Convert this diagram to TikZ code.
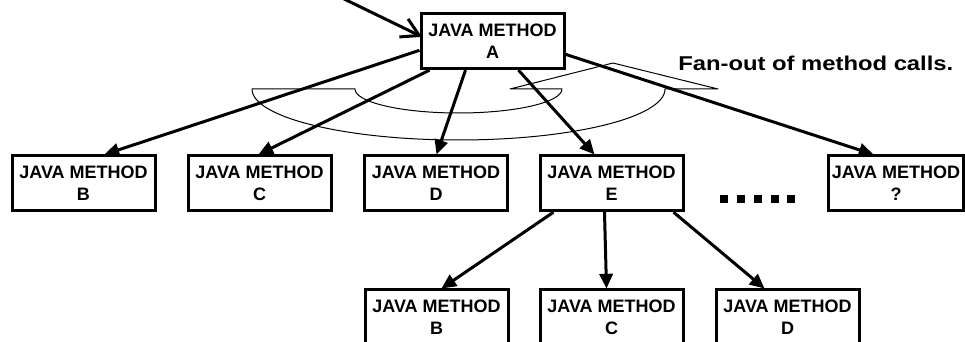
\documentclass[tikz,border=0pt]{standalone}
\usepackage{fontspec}
\setmainfont{Liberation Sans}
\usetikzlibrary{arrows.meta}
\begin{document}
\begin{tikzpicture}[x=0.75pt,y=-0.75pt,
  jbox/.style={draw, line width=2.25pt, rectangle, minimum width=107.25pt,
    minimum height=41pt, inner sep=0pt, anchor=north west, align=center,
    font=\bfseries\fontsize{13.5}{17}\selectfont},
  call/.style={line width=2.25pt, -{Triangle[length=11pt,width=10pt]}},
  entry/.style={line width=2.25pt, -{Straight Barb[length=13pt,width=15pt]}},
  fan/.style={line width=0.75pt, line join=round},
  dot/.style={fill, rectangle, minimum size=6pt, inner sep=0pt}]
\useasboundingbox (0,0) rectangle (965,342);

% caller method
\node[jbox] (A) at (419.5,12.5) {JAVA METHOD\\A};

% first level of calls
\node[jbox] (B) at (10.5,154.5) {JAVA METHOD\\B};
\node[jbox] (C) at (186.5,154.5) {JAVA METHOD\\C};
\node[jbox] (D) at (363,154.5) {JAVA METHOD\\D};
\node[jbox] (E) at (538.5,154.5) {JAVA METHOD\\E};
\node[jbox, minimum width=101.25pt] (Q) at (827,154.5) {JAVA METHOD\\?};

% ellipsis between E and the unknown method
\node[dot] (d1) at (724,199) {};
\node[dot] (d2) at (741,199) {};
\node[dot] (d3) at (758,199) {};
\node[dot] (d4) at (775,199) {};
\node[dot] (d5) at (791,199) {};

% second level of calls, from E
\node[jbox] (B2) at (363.5,288.5) {JAVA METHOD\\B};
\node[jbox] (C2) at (538.5,288.5) {JAVA METHOD\\C};
\node[jbox] (D2) at (714.5,288.5) {JAVA METHOD\\D};

% incoming call into A
\coordinate (caller) at (340,-3);
\draw[entry] (caller) -- ([shift={(2.5,-4.5)}]A.west);

% calls made by A
\draw[call] ([shift={(0,9)}]A.west) -- ([shift={(21,0)}]B.north);
\draw[call] ([shift={(-63,0)}]A.south) -- ([shift={(-1,0)}]C.north);
\draw[call] ([shift={(-27,0)}]A.south) -- ([shift={(0.5,0)}]D.north);
\draw[call] ([shift={(26,0)}]A.south) -- ([shift={(-17,0)}]E.north);
\draw[call] ([shift={(0,13)}]A.east) -- ([shift={(-22.5,0)}]Q.north);

% calls made by E
\draw[call] ([shift={(-58,0)}]E.south) -- ([shift={(5,0)}]B2.north);
\draw[call] ([shift={(-7,0)}]E.south) -- ([shift={(-5,0)}]C2.north);
\draw[call] ([shift={(62,0)}]E.south) -- ([shift={(-23,0)}]D2.north);

% curved band with a pointer marking the fan-out
\draw[fan] (252,89) -- (355,89)
  arc[start angle=180, end angle=360, x radius=77.625pt, y radius=18pt]
  -- (510,89) -- (613,63) -- (718,89) -- (665,89)
  arc[start angle=0, end angle=-180, x radius=154.875pt, y radius=38.25pt]
  -- cycle;

\node[anchor=west, inner sep=0pt, font=\bfseries\fontsize{15}{18}\selectfont]
  (fanlabel) at (678,63) {\scalebox{1.19}[1]{Fan-out of method calls.}};
\end{tikzpicture}
\end{document}
